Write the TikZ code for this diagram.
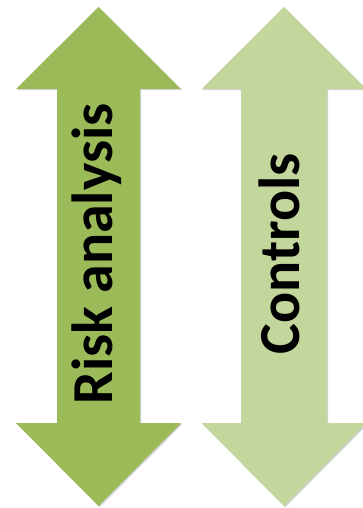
\documentclass[tikz,border=0pt]{standalone}
\usepackage{fontspec}
\setmainfont{Carlito}
\definecolor{darkgreen}{HTML}{9BBB59}
\definecolor{lightgreen}{HTML}{C3D69B}
\begin{document}
\begin{tikzpicture}[x=1pt,y=-1pt,
  arrowlabel/.style={rotate=90,font=\bfseries\fontsize{58}{60}\selectfont,text=black,inner sep=0pt},
  shadowfill/.style={fill=black,opacity=0.18}]
\useasboundingbox (0,0) rectangle (362,508);
% double arrow path macro via pic-like repetition
\def\dblarrow#1#2#3#4#5{% center, half head width, half shaft width
  (#1,7) -- (#1+#2,89) -- (#1+#3,89) -- (#1+#3,423) -- (#1+#2,423) -- (#1,506)
  -- (#1-#2,423) -- (#1-#3,423) -- (#1-#3,89) -- (#1-#2,89) -- cycle}
% shadows
\fill[shadowfill,xshift=1.2pt,yshift=-1.2pt] \dblarrow{98.5}{82.5}{41.5}{}{};
\fill[shadowfill,xshift=1.2pt,yshift=-1.2pt] \dblarrow{284}{82.5}{43}{}{};
% arrows
\fill[darkgreen] \dblarrow{98.5}{82.5}{41.5}{}{};
\fill[lightgreen] \dblarrow{284}{82.5}{43}{}{};
% labels
\node[arrowlabel] (risk) at (96.5,254) {Risk analysis};
\node[arrowlabel] (controls) at (279.5,253.5) {Controls};
\end{tikzpicture}
\end{document}
